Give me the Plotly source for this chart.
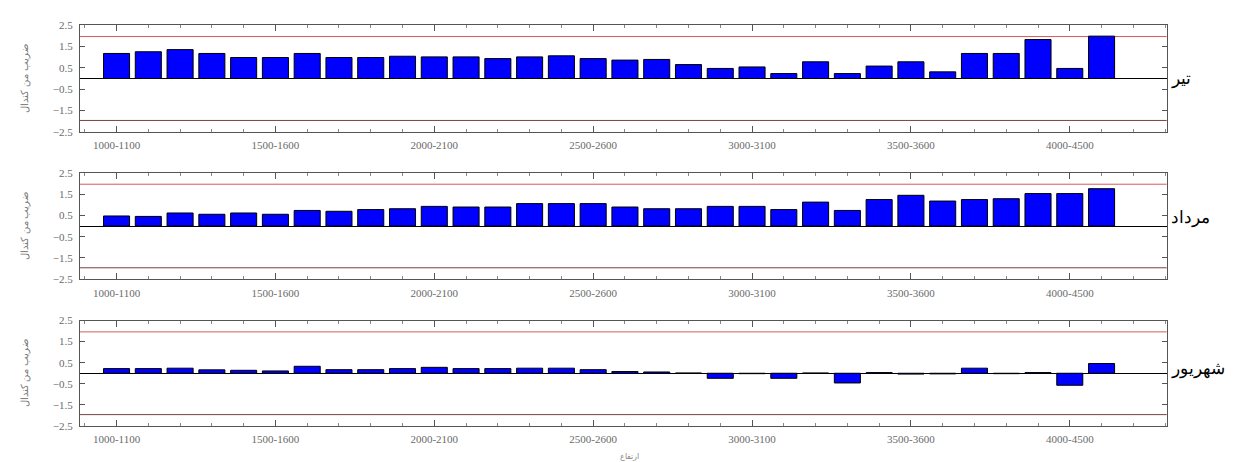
import plotly.graph_objects as go

# ---- data ----
categories = ["1000-1100", "1100-1200", "1200-1300", "1300-1400", "1400-1500",
              "1500-1600", "1600-1700", "1700-1800", "1800-1900", "1900-2000",
              "2000-2100", "2100-2200", "2200-2300", "2300-2400", "2400-2500",
              "2500-2600", "2600-2700", "2700-2800", "2800-2900", "2900-3000",
              "3000-3100", "3100-3200", "3200-3300", "3300-3400", "3400-3500",
              "3500-3600", "3600-3700", "3700-3800", "3800-3900", "3900-4000",
              "4000-4500", ">4500"]
tick_labels = ["1000-1100", "1500-1600", "2000-2100", "2500-2600",
               "3000-3100", "3500-3600", "4000-4500"]

tir = [1.17, 1.25, 1.35, 1.17, 0.98, 0.98, 1.17, 0.98, 0.98, 1.04,
       1.01, 1.01, 0.93, 1.01, 1.06, 0.93, 0.86, 0.89, 0.65, 0.47,
       0.54, 0.23, 0.78, 0.23, 0.58, 0.78, 0.31, 1.17, 1.17, 1.82,
       0.47, 1.98]
mordad = [0.47, 0.45, 0.61, 0.55, 0.61, 0.55, 0.73, 0.69, 0.77, 0.81,
          0.92, 0.89, 0.89, 1.05, 1.05, 1.05, 0.89, 0.81, 0.81, 0.92,
          0.92, 0.77, 1.12, 0.73, 1.24, 1.44, 1.17, 1.24, 1.28, 1.52,
          1.52, 1.75]
shahrivar = [0.22, 0.22, 0.24, 0.16, 0.14, 0.11, 0.33, 0.17, 0.17, 0.22,
             0.28, 0.22, 0.22, 0.24, 0.24, 0.17, 0.08, 0.06, 0.01, -0.24,
             -0.02, -0.24, 0.01, -0.46, 0.03, -0.04, -0.03, 0.24, -0.02, 0.03,
             -0.57, 0.46]

month_names = ["تیر", "مرداد", "شهریور"]
series = [tir, mordad, shahrivar]
y_ticks = [-2.5, -1.5, -0.5, 0.5, 1.5, 2.5]
signif = 1.96
y_title = "ضریب من کندال"
x_title = "ارتفاع"

# ---- layout (page pixel positions; page body has an 8px margin) ----
OFF = 8
W, H = 1236 - OFF, 462 - OFF
def fx(px):
    return (px - OFF) / W
def fy(py):
    return 1 - (py - OFF) / H

domains = [(25, 132), (172.7, 279.3), (320.5, 426)]  # page pixel top/bottom
x_dom = [fx(80), fx(1166.7)]
label_y = [78, 216, 367]

xpos = list(range(len(categories)))
tickvals = [categories.index(t) for t in tick_labels]

fig = go.Figure()
tick_font = dict(family="Liberation Serif", size=11, color="#6a6a6a")

for i, vals in enumerate(series):
    n = "" if i == 0 else str(i + 1)
    fig.add_trace(go.Bar(
        x=xpos, y=vals, xaxis="x" + n, yaxis="y" + n,
        width=0.82, marker=dict(color="#0000ff", line=dict(color="black", width=1)),
        showlegend=False, hovertext=categories,
    ))
    top, bot = domains[i]
    fig.layout["xaxis" + n] = dict(
        domain=x_dom, anchor="y" + n, range=[-1.15, 33.05], automargin=False,
        tickmode="array", tickvals=tickvals, ticktext=tick_labels,
        ticks="inside", ticklen=6, tickcolor="#555", tickwidth=1,
        minor=dict(ticks="inside", ticklen=3, tickmode="linear", tick0=0, dtick=1,
                   tickcolor="#888", showgrid=False),
        showline=True, linecolor="#555", linewidth=1, mirror="ticks",
        showgrid=False, zeroline=False, tickfont=tick_font, ticklabelstandoff=3,
        fixedrange=True,
    )
    fig.layout["yaxis" + n] = dict(
        domain=[fy(bot), fy(top)], anchor="x" + n, range=[-2.5, 2.5],
        automargin=False,
        tickmode="array", tickvals=y_ticks, tickformat=".1f",
        ticks="inside", ticklen=5, tickcolor="#555",
        showline=True, linecolor="#555", linewidth=1, mirror="ticks",
        showgrid=False, zeroline=True, zerolinecolor="black", zerolinewidth=1,
        tickfont=tick_font, ticklabelstandoff=4, fixedrange=True,
        title=dict(text=y_title, font=dict(family="Noto Sans", size=10, color="#777"),
                   standoff=22),
    )
    for yv, col in [(signif, "#d45a5a"), (-signif, "#7a4040")]:
        fig.add_shape(type="line", xref="x" + n + " domain", yref="y" + n,
                      x0=0, x1=1, y0=yv, y1=yv, line=dict(color=col, width=1),
                      layer="below")
    fig.add_annotation(text=month_names[i], xref="paper", yref="paper",
                       x=fx(1169), y=fy(label_y[i]), xanchor="left", yanchor="middle",
                       showarrow=False, font=dict(family="Noto Sans", size=17, color="black"))

fig.add_annotation(text=x_title, xref="paper", yref="paper", x=fx(629),
                   y=fy(455), xanchor="center", yanchor="middle", showarrow=False,
                   font=dict(family="Noto Sans", size=8, color="#888"))

fig.update_layout(width=W, height=H, margin=dict(l=0, r=0, t=0, b=0, autoexpand=False),
                  plot_bgcolor="white", paper_bgcolor="white", bargap=0.1)
fig.write_html("out.html")
